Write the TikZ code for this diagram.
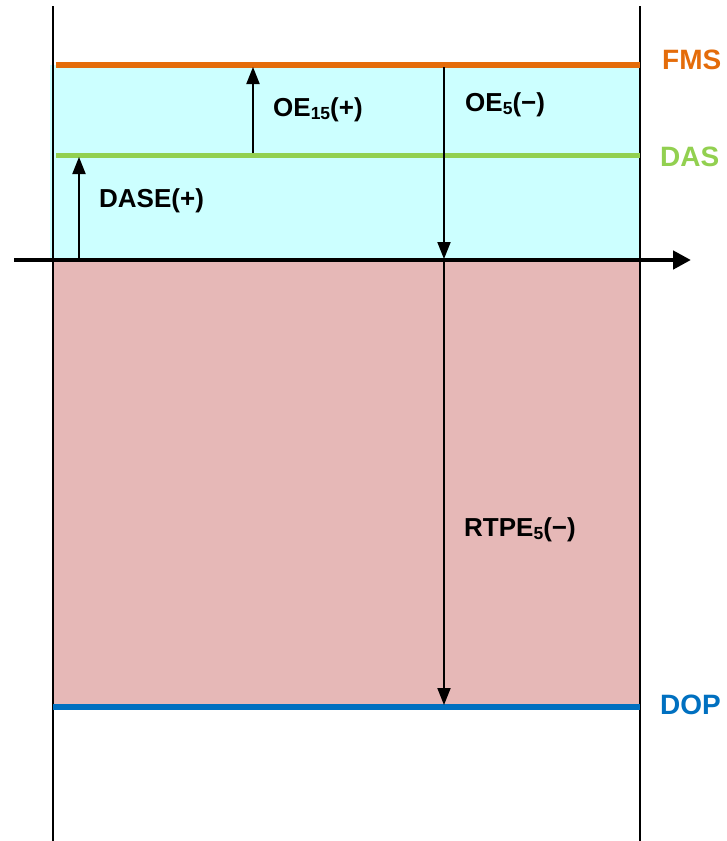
\documentclass[tikz,border=0pt]{standalone}
\usepackage{fontspec}
\setmainfont{Liberation Sans}
\usetikzlibrary{arrows.meta}
\definecolor{cyanfill}{HTML}{CCFFFF}
\definecolor{pinkfill}{HTML}{E6B8B7}
\definecolor{fmscol}{HTML}{E46C0A}
\definecolor{dascol}{HTML}{92D050}
\definecolor{dopcol}{HTML}{0070C0}
\newcommand{\lowsub}[1]{\raisebox{-0.12em}{\fontsize{17.5}{17.5}\selectfont #1}}
\tikzset{
  lbl/.style={anchor=west, inner sep=0pt, font=\fontsize{26}{31}\selectfont\bfseries},
  clbl/.style={anchor=west, inner sep=0pt, font=\fontsize{28}{33}\selectfont\bfseries},
  wall/.style={line width=1.3pt, black},
  level/.style={line width=6pt},
  meas/.style={line width=2pt, -{Triangle[length=17pt,width=13pt]}},
  axis/.style={line width=4.5pt, -{Triangle[length=18pt,width=18pt]}}
}
\begin{document}
\begin{tikzpicture}[x=1pt,y=-1pt]
\useasboundingbox (0,0) rectangle (726,841);
% fills
\fill[cyanfill] (50,65) rectangle (640,260);
\fill[pinkfill] (53,260) rectangle (640,707);
% walls
\draw[wall] (53,6) -- (53,841);
\draw[wall] (640,6) -- (640,841);
% level lines
\coordinate (fmsL) at (56,65);   \coordinate (fmsR) at (640,65);
\coordinate (dasL) at (56,155);  \coordinate (dasR) at (640,155);
\coordinate (dopL) at (53,707);  \coordinate (dopR) at (640,707);
\draw[level, fmscol] (fmsL) -- (fmsR);
\draw[level, dascol, line width=5pt] (dasL) -- (dasR);
\draw[level, dopcol] (dopL) -- (dopR);
% axis
\coordinate (axL) at (14,260);
\coordinate (axR) at (691,260);
\draw[axis] (axL) -- (axR);
% measurement arrows
\coordinate (daseB) at (79,260);  \coordinate (daseT) at (79,157);
\coordinate (oe15B) at (253,153); \coordinate (oe15T) at (253,67);
\coordinate (oe5T) at (444,67);   \coordinate (oe5B) at (444,259);
\coordinate (rtT) at (444,261);   \coordinate (rtB) at (444,705);
\draw[meas] (daseB) -- (daseT);
\draw[meas] (oe15B) -- (oe15T);
\draw[meas] (oe5T) -- (oe5B);
\draw[meas] (rtT) -- (rtB);
% labels
\node[lbl] (oe15) at (273,110) {OE\lowsub{15}(+)};
\node[lbl] (oe5) at (465,105) {OE\lowsub{5}(−)};
\node[lbl] (dase) at (99,201) {DASE(+)};
\node[lbl] (rtpe) at (464,530) {RTPE\lowsub{5}(−)};
\node[clbl, text=fmscol] (fms) at (662,60) {FMS};
\node[clbl, text=dascol] (das) at (660,157) {DAS};
\node[clbl, text=dopcol] (dop) at (660,705) {DOP};
\end{tikzpicture}
\end{document}
